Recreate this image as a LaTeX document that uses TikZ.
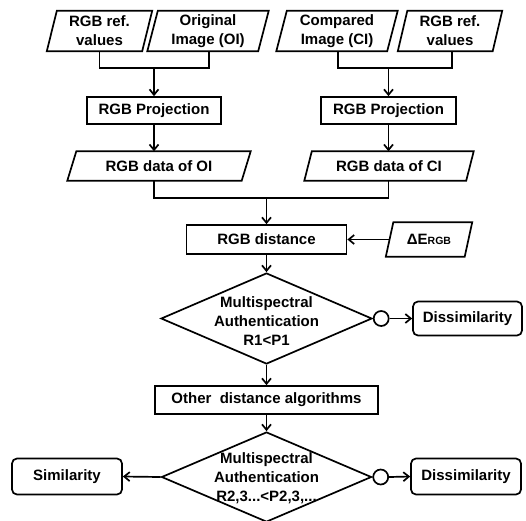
\documentclass[tikz,border=0pt]{standalone}
\usepackage{fontspec}
\setmainfont{Liberation Sans}
\usetikzlibrary{arrows.meta,shapes.geometric,calc}
\newcommand\paradraw[2]{\draw[conn] ([xshift=#2pt]#1.north west) -- ([xshift=#2pt]#1.north east) -- ([xshift=-#2pt]#1.south east) -- ([xshift=-#2pt]#1.south west) -- cycle;}
\begin{document}
\begin{tikzpicture}[x=1pt,y=-1pt,
  base/.style={font=\fontsize{15}{18.8}\selectfont\bfseries, align=center, inner sep=0pt},
  rbox/.style={base, draw, line width=1.7pt, rectangle},
  rrbox/.style={rbox, rounded corners=5pt},
  ptext/.style={base},
  dia/.style={diamond, draw, line width=1.7pt, inner sep=0pt},
  circ/.style={circle, draw, line width=1.7pt, minimum size=15pt, inner sep=0pt},
  conn/.style={line width=1.7pt},
  arr/.style={conn, -{Straight Barb[length=5.5pt,width=9pt]}}]
\useasboundingbox (0,0) rectangle (526,520);
% top inputs
\node[ptext, minimum width=95pt, minimum height=40pt] (p1) at (99.5,31) {RGB ref.\\values};
\node[ptext, minimum width=110.5pt, minimum height=40pt] (p2) at (208,31) {Original\\Image (OI)};
\node[ptext, minimum width=110.5pt, minimum height=40pt] (p3) at (337,31) {Compared\\Image (CI)};
\node[ptext, minimum width=94.5pt, minimum height=40pt] (p4) at (450,31) {RGB ref.\\values};
\paradraw{p1}{5}
\paradraw{p2}{5.25}
\paradraw{p3}{5.25}
\paradraw{p4}{4.75}
% projections
\node[rbox, minimum width=134pt, minimum height=27pt] (proj1) at (154,110.5) {RGB Projection};
\node[rbox, minimum width=135pt, minimum height=27pt] (proj2) at (388.5,110.5) {RGB Projection};
% data
\node[ptext, minimum width=174pt, minimum height=29pt] (data1) at (159,166) {RGB data of OI};
\node[ptext, minimum width=161.5pt, minimum height=29pt] (data2) at (389,166) {RGB data of CI};
\paradraw{data1}{4.5}
\paradraw{data2}{3.75}
% distance
\node[rbox, minimum width=160pt, minimum height=29pt] (dist) at (266.5,239.5) {RGB distance};
\node[ptext, minimum width=78.5pt, minimum height=34pt] (dE) at (429,239.5) {ΔE{\fontsize{10.5}{12}\selectfont RGB}};
\paradraw{dE}{3.75}
% decision 1
\node[dia, minimum width=211pt, minimum height=91pt] (d1) at (266.5,318.5) {};
\node[base] (d1t) at (266.5,321) {Multispectral\\Authentication\\R1<P1};
\node[circ, anchor=west] (c1) at (d1.east) {};
\node[rrbox, minimum width=109pt, minimum height=34pt] (diss1) at (467.5,318.5) {Dissimilarity};
% other
\node[rbox, minimum width=223pt, minimum height=28pt] (other) at (266.5,400) {Other~ distance algorithms};
% decision 2
\node[dia, minimum width=210pt, minimum height=90pt] (d2) at (266.5,477) {};
\node[base] (d2t) at (266.5,478) {Multispectral\\Authentication\\R2,3...<P2,3,...};
\node[circ, anchor=west] (c2) at (d2.east) {};
\node[rrbox, minimum width=110pt, minimum height=36pt] (diss2) at (466,476.5) {Dissimilarity};
\node[rrbox, minimum width=110pt, minimum height=36pt] (sim) at (67,476.5) {Similarity};
% connectors
\coordinate (j1) at (154,68);
\coordinate (j2) at (388.5,68);
\coordinate (j3) at (266.5,198);
\draw[conn] ([xshift=0pt]p1.south) |- (j1) -| ([xshift=1pt]p2.south);
\draw[arr] (j1) -- (proj1.north);
\draw[conn] ([xshift=1pt]p3.south) |- (j2) -| ([xshift=2pt]p4.south);
\draw[arr] (j2) -- (proj2.north);
\draw[arr] (proj1.south) -- (proj1.south |- data1.north);
\draw[arr] (proj2.south) -- (proj2.south |- data2.north);
\draw[conn] (proj1.south |- data1.south) |- (j3) -| (proj2.south |- data2.south);
\draw[arr] (j3) -- (dist.north);
\draw[arr] (dE.west) -- (dist.east);
\draw[arr] (dist.south) -- (d1.north);
\draw[arr] (c1.east) -- (diss1.west);
\draw[arr] (d1.south) -- (other.north);
\draw[arr] (other.south) -- (d2.north);
\draw[arr] (c2.east) -- (diss2.west);
\draw[arr] (d2.west) -- (sim.east);
\end{tikzpicture}
\end{document}
